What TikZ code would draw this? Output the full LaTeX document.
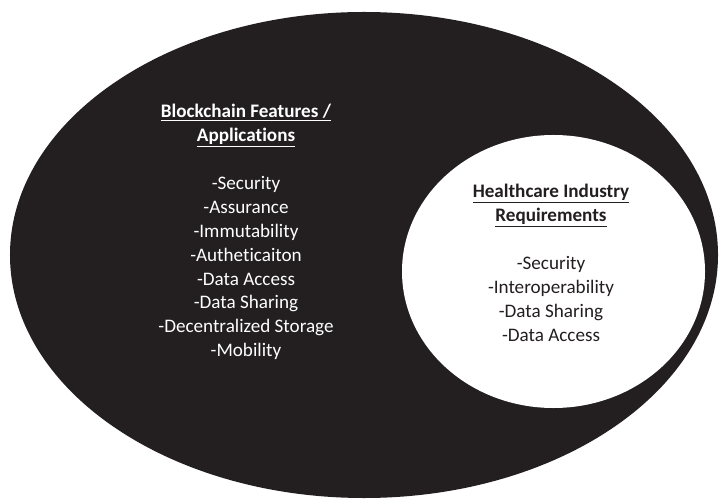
\documentclass[tikz,border=0pt]{standalone}
\usepackage{fontspec}
\setmainfont[Ligatures=NoCommon, RawFeature={-liga;-clig;-calt;-dlig}]{Carlito}
\usepackage{tikz}

\definecolor{inkblack}{HTML}{231F20}

\begin{document}
\begin{tikzpicture}[x=1bp, y=-1bp,
        listtext/.style={align=center, inner sep=0pt, font=\fontsize{19.2}{24}\selectfont}]
        \useasboundingbox (0, 0) rectangle (720, 501);
        % outer set and inner set
        \fill[inkblack] (364, 255) ellipse [x radius=354bp, y radius=243bp];
        \fill[white] (553.5, 271.5) ellipse [x radius=151.5bp, y radius=136.5bp];
        \node[listtext, text=white](bchain)at(246, 232){%
            \underline{\textbf{Blockchain Features /}}\\
            \underline{\textbf{Applications}}\\[24bp]
            -Security\\ -Assurance\\ -Immutability\\ -Autheticaiton\\
            -Data Access\\ -Data Sharing\\ -Decentralized Storage\\ -Mobility};
        \node[listtext, text=inkblack](health)at(551, 263){%
            \underline{\textbf{Healthcare Industry}}\\
            \underline{\textbf{Requirements}}\\[24bp]
            -Security\\ -Interoperability\\ -Data Sharing\\ -Data Access};
    \end{tikzpicture}
\end{document}
